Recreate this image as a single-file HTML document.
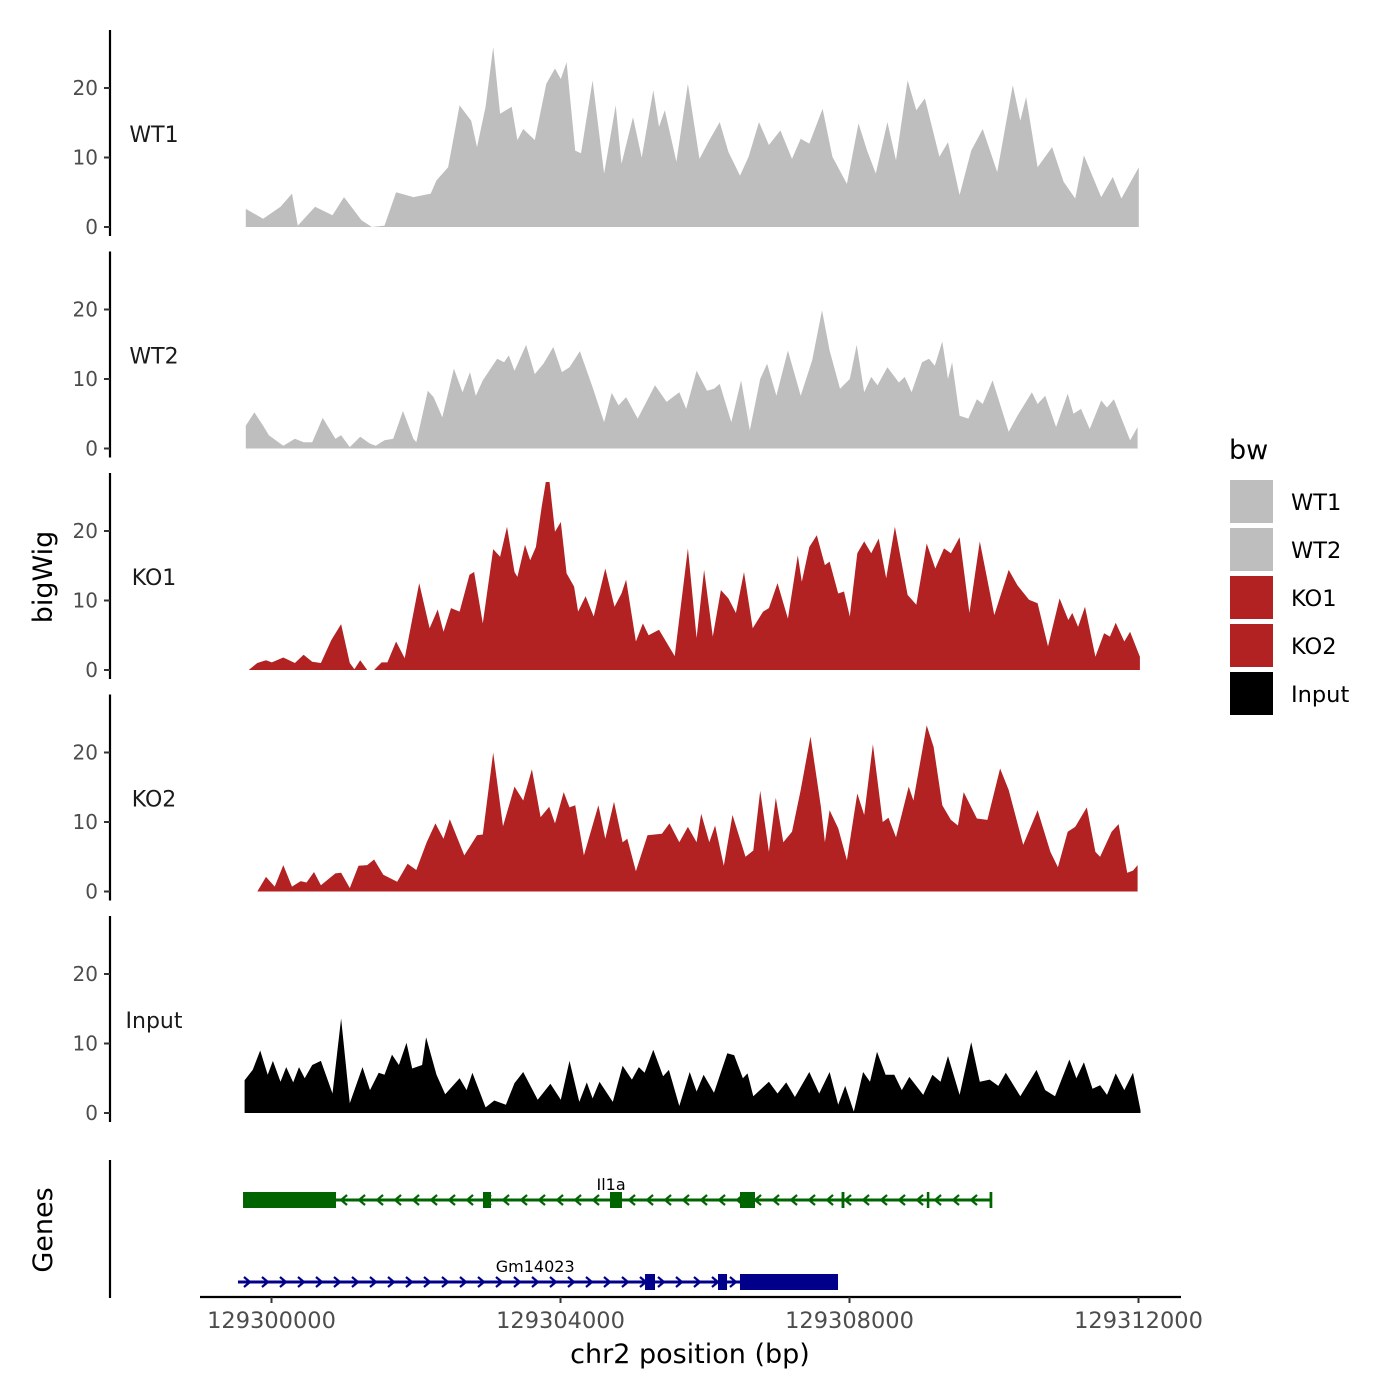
<!DOCTYPE html>
<html><head><meta charset="utf-8">
<style>
html,body{margin:0;padding:0;background:#fff;}
svg{display:block;font-family:"DejaVu Sans","Liberation Sans",sans-serif;}
</style></head>
<body>
<svg id="chart" width="1400" height="1400" viewBox="0 0 1400 1400" xmlns="http://www.w3.org/2000/svg"></svg>
<script>
// ---- data ----
const trackNames = ["WT1","WT2","KO1","KO2","Input"];
const trackColors = ["#bebebe","#bebebe","#b22222","#b22222","#000000"];
const TRACK_BASE = 129299564; // bp offset base for positions below
const yTicks = [0,10,20];
const xTicks = [129300000,129304000,129308000,129312000];
const xTickLabels = ["129300000","129304000","129308000","129312000"];

const wt1Pos = [80,320,560,720,800,1040,1280,1440,1680,1824,2000,2160,2400,2640,2720,2880,3040,3200,3280,3400,3504,3600,3760,3840,3920,4080,4240,4360,4440,4520,4640,4720,4880,5040,5200,5280,5440,5560,5720,5800,5880,6040,6200,6360,6480,6640,6760,6920,7040,7184,7320,7480,7640,7760,7880,8064,8200,8400,8560,8680,8800,8960,9080,9240,9360,9480,9680,9800,9960,10120,10280,10480,10696,10800,10880,11040,11240,11400,11560,11680,11920,12080,12200,12440];
const wt1Val = [2.6,1.2,2.9,4.8,0.2,2.9,1.7,4.3,1.0,0,0.2,5,4.3,4.8,6.7,8.6,17.5,15.3,11.5,17.3,25.9,16.3,17.3,12.5,14.1,12.5,20.6,22.8,21.3,23.7,11,10.6,21.1,7.7,17.5,9.1,15.8,10,19.7,14.4,16.8,9.4,20.6,9.8,12.2,15.1,10.8,7.4,10.1,15.1,11.8,13.9,9.8,12.7,12,17,10.1,6.2,14.9,11,7.7,15.1,9.6,21.1,16.8,18.5,10.1,12.2,4.6,11,14.1,7.9,20.4,15.3,18.7,8.6,11.5,6.5,4.1,10.3,4.3,7.2,4.1,8.6];

const wt2Pos = [80,200,320,400,600,760,880,1000,1144,1320,1400,1520,1664,1800,1880,2000,2120,2256,2400,2440,2600,2680,2800,2960,3080,3184,3264,3360,3560,3656,3720,3800,3960,4080,4200,4336,4456,4560,4704,4880,5040,5144,5240,5344,5504,5744,5904,6080,6176,6320,6464,6560,6640,6800,6936,7056,7200,7296,7424,7584,7760,7920,8056,8160,8304,8440,8536,8640,8736,8824,8960,9120,9200,9296,9440,9536,9616,9720,9800,9856,9960,10080,10200,10280,10416,10640,10760,10960,11040,11144,11296,11456,11536,11640,11760,11920,12000,12096,12320,12424];
const wt2Val = [3.3,5.2,3.3,1.9,0.4,1.4,0.9,0.9,4.4,1.4,1.9,0.2,1.7,0.7,0.4,1.2,1.4,5.4,1.4,0.9,8.3,7.4,4.5,11.5,8.1,11,7.6,9.8,12.9,12.4,13.4,11.2,14.9,10.7,12.2,14.6,11,11.7,14,8.8,3.8,8,6.2,7.4,4.3,9.1,6.7,8.1,5.7,11.2,8.3,8.6,9.3,3.8,9.8,2.6,10,12.2,7.6,14.1,7.6,12.7,19.9,14.1,8.6,10,14.9,8.1,10.3,9.1,11.7,9.5,10.3,8.1,12.4,12.9,11.9,15.4,10,12.4,4.7,4.3,7.1,6.4,9.8,2.4,4.7,8.1,6.4,7.6,3.1,7.9,5,5.7,2.8,6.9,5.9,7.1,1.2,3.1];

const ko1Pos = [120,240,360,440,600,760,880,1000,1120,1264,1400,1520,1584,1664,1760,1856,1960,2040,2160,2280,2480,2624,2736,2816,2920,3040,3176,3240,3360,3504,3600,3696,3800,3840,3944,4016,4096,4176,4240,4280,4360,4440,4520,4624,4680,4784,4896,5056,5184,5280,5344,5480,5576,5656,5800,6016,6200,6320,6424,6544,6656,6760,6864,6976,7096,7240,7320,7440,7584,7720,7776,7880,7984,8096,8160,8280,8360,8440,8544,8640,8736,8840,8944,9064,9240,9360,9504,9624,9744,9840,9960,10096,10240,10440,10640,10760,10920,11040,11184,11344,11464,11520,11600,11696,11840,11960,12040,12120,12240,12320,12456];
const ko1Val = [0,1.0,1.4,1.1,1.8,1.0,2.2,1.2,1.0,4.3,6.6,1.0,0.1,1.4,0,0,1.1,1.1,4.1,1.7,12.5,6,8.7,5.5,8.9,8.4,13.7,14.1,6.7,17.4,16.3,20.6,14.1,13.4,18,15.8,17.7,23.5,27.5,27.5,19.9,21.3,13.9,12,8.4,10.6,7.7,14.6,9.1,11,13,4.1,6.7,5,5.8,2,17.5,4.6,14.4,4.8,11.5,10.3,8.2,14.1,6,8.4,8.9,12.5,7.4,16.5,12.7,17.7,19.4,15.1,15.6,11,11.3,7.7,16.8,18.5,16.8,18.9,13.2,20.6,10.8,9.4,18.2,14.6,17.5,16.8,19.1,8.2,18.5,7.9,14.4,12.2,10.1,9.6,3.4,10.3,7.2,8.2,6.2,9.1,1.9,5.3,4.8,6.8,4.1,5.5,1.9];

const ko2Pos = [240,360,480,600,720,840,920,1024,1120,1320,1400,1520,1640,1760,1856,1984,2176,2320,2440,2584,2704,2816,2904,3104,3280,3360,3504,3640,3800,3920,4040,4160,4280,4360,4480,4560,4640,4760,4960,5056,5176,5296,5360,5480,5640,5840,5944,6080,6200,6320,6384,6496,6576,6696,6816,6996,7104,7200,7320,7416,7520,7640,7760,7896,8040,8096,8160,8280,8400,8544,8640,8760,8896,8976,9080,9256,9320,9504,9600,9720,9840,9936,10016,10200,10344,10520,10640,10840,11040,11216,11320,11456,11560,11720,11840,11904,12064,12160,12280,12360,12424];
const ko2Val = [0,2.1,0.7,3.8,0.7,1.5,1.3,2.8,0.9,2.6,2.7,0.5,3.7,3.8,4.6,2.4,1.4,4,3.1,7.1,9.8,7.6,10.4,5.2,8.1,8.2,20,9.4,15.1,13.1,17.6,10.7,12.2,9.8,14.3,12.1,12.4,5.2,12.4,7.6,12.9,7.1,7.6,2.9,8.1,8.3,9.8,7.1,9.3,7.1,11.2,7.1,9.5,3.7,11,5,5.9,14.5,5.7,13.5,7.1,8.6,14.6,22.3,12.2,7.1,11.7,9.1,4.5,14.1,11,21.2,10,10.6,7.8,15.1,13.1,23.9,20.8,12.4,10.3,9.5,14.3,10.5,10.3,17.7,14.6,6.7,11.7,5.7,3.5,8.6,9.3,12.1,5.7,5,8.6,9.7,2.7,3,3.8];

const inputPos = [64,176,280,384,456,560,640,736,816,896,1000,1120,1280,1400,1520,1696,1800,1920,2000,2104,2200,2304,2384,2520,2576,2720,2840,3040,3136,3216,3400,3520,3680,3800,3920,4120,4296,4440,4560,4696,4800,4880,4976,5160,5296,5424,5520,5600,5720,5856,5936,6080,6224,6320,6416,6560,6744,6840,6960,7024,7104,7320,7440,7560,7680,7880,8016,8160,8280,8376,8496,8624,8720,8816,8936,9056,9160,9264,9456,9584,9696,9800,9960,10120,10240,10376,10496,10600,10800,11024,11144,11280,11480,11576,11680,11800,11904,12000,12120,12240,12360,12464];
const inputVal = [4.7,6.2,9,5.5,7.5,4.5,6.6,4.4,6.6,5,6.9,7.5,2.8,13.6,1.4,6.6,3.3,5.8,5.5,8.4,6.9,10.1,6.4,6.9,10.9,5.5,2.7,5,3.3,5.8,0.8,1.8,1.2,4.3,5.9,1.9,4.2,1.9,7.5,1.6,4.4,2.1,4.5,1.6,6.8,4.8,6.6,5.8,9.1,5.3,6.2,1,5.9,3.1,5.5,2.9,8.6,8.3,5,5.7,2.4,4.5,2.8,4.4,2.3,5.9,2.8,5.9,1.2,3.9,0.2,5.9,4.5,8.8,5.5,5.5,3.3,5.2,2.6,5.5,4.5,8.2,2.6,10.2,4.5,4.8,3.9,5.8,2.4,6.2,3.3,2.4,7.7,5,7.3,3.5,4,2.6,5.7,3.3,5.8,0.4];

const trackPos = [wt1Pos,wt2Pos,ko1Pos,ko2Pos,inputPos];
const trackVal = [wt1Val,wt2Val,ko1Val,ko2Val,inputVal];

// genes
const geneNames = ["Il1a","Gm14023"];
const geneColors = ["#006400","#00008b"];
const geneStart = [129299606,129299536];
const geneEnd = [129309958,129307841];
const geneStrand = [-1,1];
const il1aExonStart = [129299606,129302927,129304685,129306484,129307890,129309070,129309940];
const il1aExonEnd   = [129300893,129303038,129304851,129306692,129307930,129309105,129309958];
const gmExonStart = [129305170,129306180,129306484];
const gmExonEnd   = [129305308,129306305,129307841];
const geneExonStart = [il1aExonStart,gmExonStart];
const geneExonEnd = [il1aExonEnd,gmExonEnd];
const geneLabelPos = [129304700,129303650];

// ---- scales ----
const PX_PER_BP = 0.07225;
function xScale(bp){ return 271.5 + (bp - 129300000) * PX_PER_BP; }
const PX_PER_UNIT = 6.95;
function panelBase(i){ return 227 + i * 221.5; }
function yScale(i, v){ return panelBase(i) - v * PX_PER_UNIT; }

const NS = "http://www.w3.org/2000/svg";
const svg = document.getElementById("chart");
function el(tag, attrs, parent){
  const e = document.createElementNS(NS, tag);
  for (const k in attrs) e.setAttribute(k, attrs[k]);
  (parent || svg).appendChild(e);
  return e;
}
const defs = el("defs", {});

// ---- tracks ----
for (let i = 0; i < trackNames.length; i++) {
  const g = el("g", {});
  
  
  const base = panelBase(i);
  const cp = el("clipPath", {id: "clip" + i}, defs);
  el("rect", {x: 200, y: base - 188, width: 1000, height: 190}, cp);
  const pos = trackPos[i], val = trackVal[i];
  let d = "M" + xScale(TRACK_BASE + pos[0]).toFixed(1) + "," + base;
  for (let j = 0; j < pos.length; j++) {
    d += " L" + xScale(TRACK_BASE + pos[j]).toFixed(1) + "," + yScale(i, val[j]).toFixed(1);
  }
  d += " L" + xScale(TRACK_BASE + pos[pos.length - 1]).toFixed(1) + "," + base + " Z";
  const area = el("path", {d: d, fill: trackColors[i], "clip-path": "url(#clip" + i + ")"}, g);
  
  

  // y axis
  const ax = el("line", {x1: 110, x2: 110, y1: base - 197, y2: base + 9, stroke: "#000", "stroke-width": 2.2}, g);
  
  
  for (let t = 0; t < yTicks.length; t++) {
    const y = yScale(i, yTicks[t]);
    const tk = el("line", {x1: 104, x2: 110, y1: y, y2: y, stroke: "#333", "stroke-width": 2}, g);
    
    
    const tl = el("text", {x: 98, y: y + 7, "text-anchor": "end", "font-size": 20, fill: "#4d4d4d"}, g);
    tl.textContent = String(yTicks[t]);
    
    
  }
  const lab = el("text", {x: 154, y: base - 85, "text-anchor": "middle", "font-size": 22, fill: "#1a1a1a"}, g);
  lab.textContent = trackNames[i];
  
  
}

// ---- genes panel ----
const gAx = el("line", {x1: 110, x2: 110, y1: 1160, y2: 1298, stroke: "#000", "stroke-width": 2.2});


const geneY = [1200, 1282];
for (let k = 0; k < geneNames.length; k++) {
  const g = el("g", {});
  
  
  const y = geneY[k], c = geneColors[k];
  const x1 = xScale(geneStart[k]), x2 = xScale(geneEnd[k]);
  el("line", {x1: x1, x2: x2, y1: y, y2: y, stroke: c, "stroke-width": 3}, g);
  const dir = geneStrand[k];
  for (let x = x1 + 10; x < x2 - 6; x += 18) {
    const d = dir > 0 ? `M${x-4},${y-5} L${x+2},${y} L${x-4},${y+5}` : `M${x+4},${y-5} L${x-2},${y} L${x+4},${y+5}`;
    el("path", {d: d, stroke: c, "stroke-width": 2.2, fill: "none"}, g);
  }
  if (k === 0) el("line", {x1: x2, x2: x2, y1: y - 8, y2: y + 8, stroke: c, "stroke-width": 2.5}, g);
  const es = geneExonStart[k], ee = geneExonEnd[k];
  for (let e = 0; e < es.length; e++) {
    const ex1 = xScale(es[e]), ex2 = xScale(ee[e]);
    const w = Math.max(ex2 - ex1, 2.5);
    const r = el("rect", {x: ex1, y: y - 8, width: w, height: 16, fill: c}, g);
    
    
  }
  const t = el("text", {x: xScale(geneLabelPos[k]), y: y - 10, "text-anchor": "middle", "font-size": 16, fill: "#000"}, g);
  t.textContent = geneNames[k];
  
  
}

// ---- x axis ----
const xa = el("line", {x1: 200, x2: 1181, y1: 1297, y2: 1297, stroke: "#000", "stroke-width": 2.2});


for (let t = 0; t < xTicks.length; t++) {
  const x = xScale(xTicks[t]);
  const tk = el("line", {x1: x, x2: x, y1: 1297, y2: 1303, stroke: "#333", "stroke-width": 2});
  
  
  const tl = el("text", {x: x, y: 1328, "text-anchor": "middle", "font-size": 22.5, fill: "#4d4d4d"});
  tl.textContent = xTickLabels[t];
  
  
}
const xt = el("text", {x: 690, y: 1363, "text-anchor": "middle", "font-size": 27, fill: "#000"});
xt.textContent = "chr2 position (bp)";



const yt = el("text", {x: 0, y: 0, "text-anchor": "middle", "font-size": 27, fill: "#000", transform: "translate(52,577) rotate(-90)"});
yt.textContent = "bigWig";


const gt = el("text", {x: 0, y: 0, "text-anchor": "middle", "font-size": 27, fill: "#000", transform: "translate(52,1230) rotate(-90)"});
gt.textContent = "Genes";



// ---- legend ----
const lg = el("g", {});


const lt = el("text", {x: 1229, y: 459, "font-size": 27, fill: "#000"}, lg);
lt.textContent = "bw";


for (let i = 0; i < trackNames.length; i++) {
  const y = 480 + i * 48;
  const ent = el("g", {}, lg);
  
  
  el("rect", {x: 1230, y: y, width: 43, height: 43, fill: trackColors[i]}, ent);
  const tx = el("text", {x: 1291, y: y + 30, "font-size": 22.5, fill: "#000"}, ent);
  tx.textContent = trackNames[i];
}
</script>
</body></html>
